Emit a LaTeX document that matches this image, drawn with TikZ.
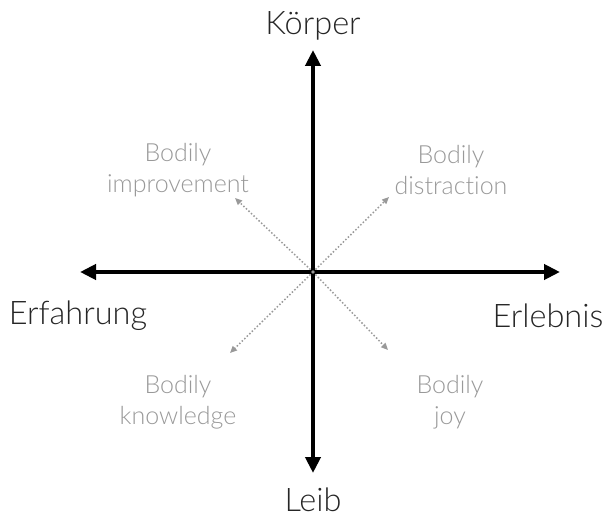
\documentclass[tikz,border=0pt]{standalone}
\usepackage{fontspec}
\setmainfont{Lato}[UprightFont=* Light,Ligatures=NoCommon]
\usetikzlibrary{arrows.meta}
\begin{document}
\begin{tikzpicture}[x=1pt,y=-1pt,
  axis/.style={line width=4pt,-{Triangle[length=16pt,width=15pt]}},
  diag/.style={draw=gray!80,line width=1.5pt,dotted,-{Triangle[length=7pt,width=6pt]}},
  big/.style={font=\fontsize{32.5}{36}\selectfont,text=black!85},
  small/.style={font=\fontsize{25}{30.5}\selectfont,text=gray!80,align=center}]
\useasboundingbox (0,0) rectangle (605,521);
\coordinate (c) at (313,272);
\coordinate (top) at (313,50);
\coordinate (bot) at (313,473);
\coordinate (lft) at (80,272);
\coordinate (rgt) at (560,272);
\coordinate (ul) at (235,198);
\coordinate (ur) at (389,197);
\coordinate (ll) at (230,353);
\coordinate (lr) at (388,350);
\draw[axis] (c) -- (top);
\draw[axis] (c) -- (bot);
\draw[axis] (c) -- (lft);
\draw[axis] (c) -- (rgt);
\draw[diag] (c) -- (ul);
\draw[diag] (c) -- (ur);
\draw[diag] (c) -- (ll);
\draw[diag] (c) -- (lr);
\node[big] (koerper) at (313,26) {Körper};
\node[big] (leib) at (313,500) {Leib};
\node[big] (erf) at (78,316) {Erfahrung};
\node[big] (erl) at (548,316) {Erlebnis};
\node[small] (bi) at (178,170) {Bodily\\improvement};
\node[small] (bd) at (451,170) {Bodily\\distraction};
\node[small] (bk) at (178,402) {Bodily\\knowledge};
\node[small] (bj) at (450,402) {Bodily\\joy};
\end{tikzpicture}
\end{document}
